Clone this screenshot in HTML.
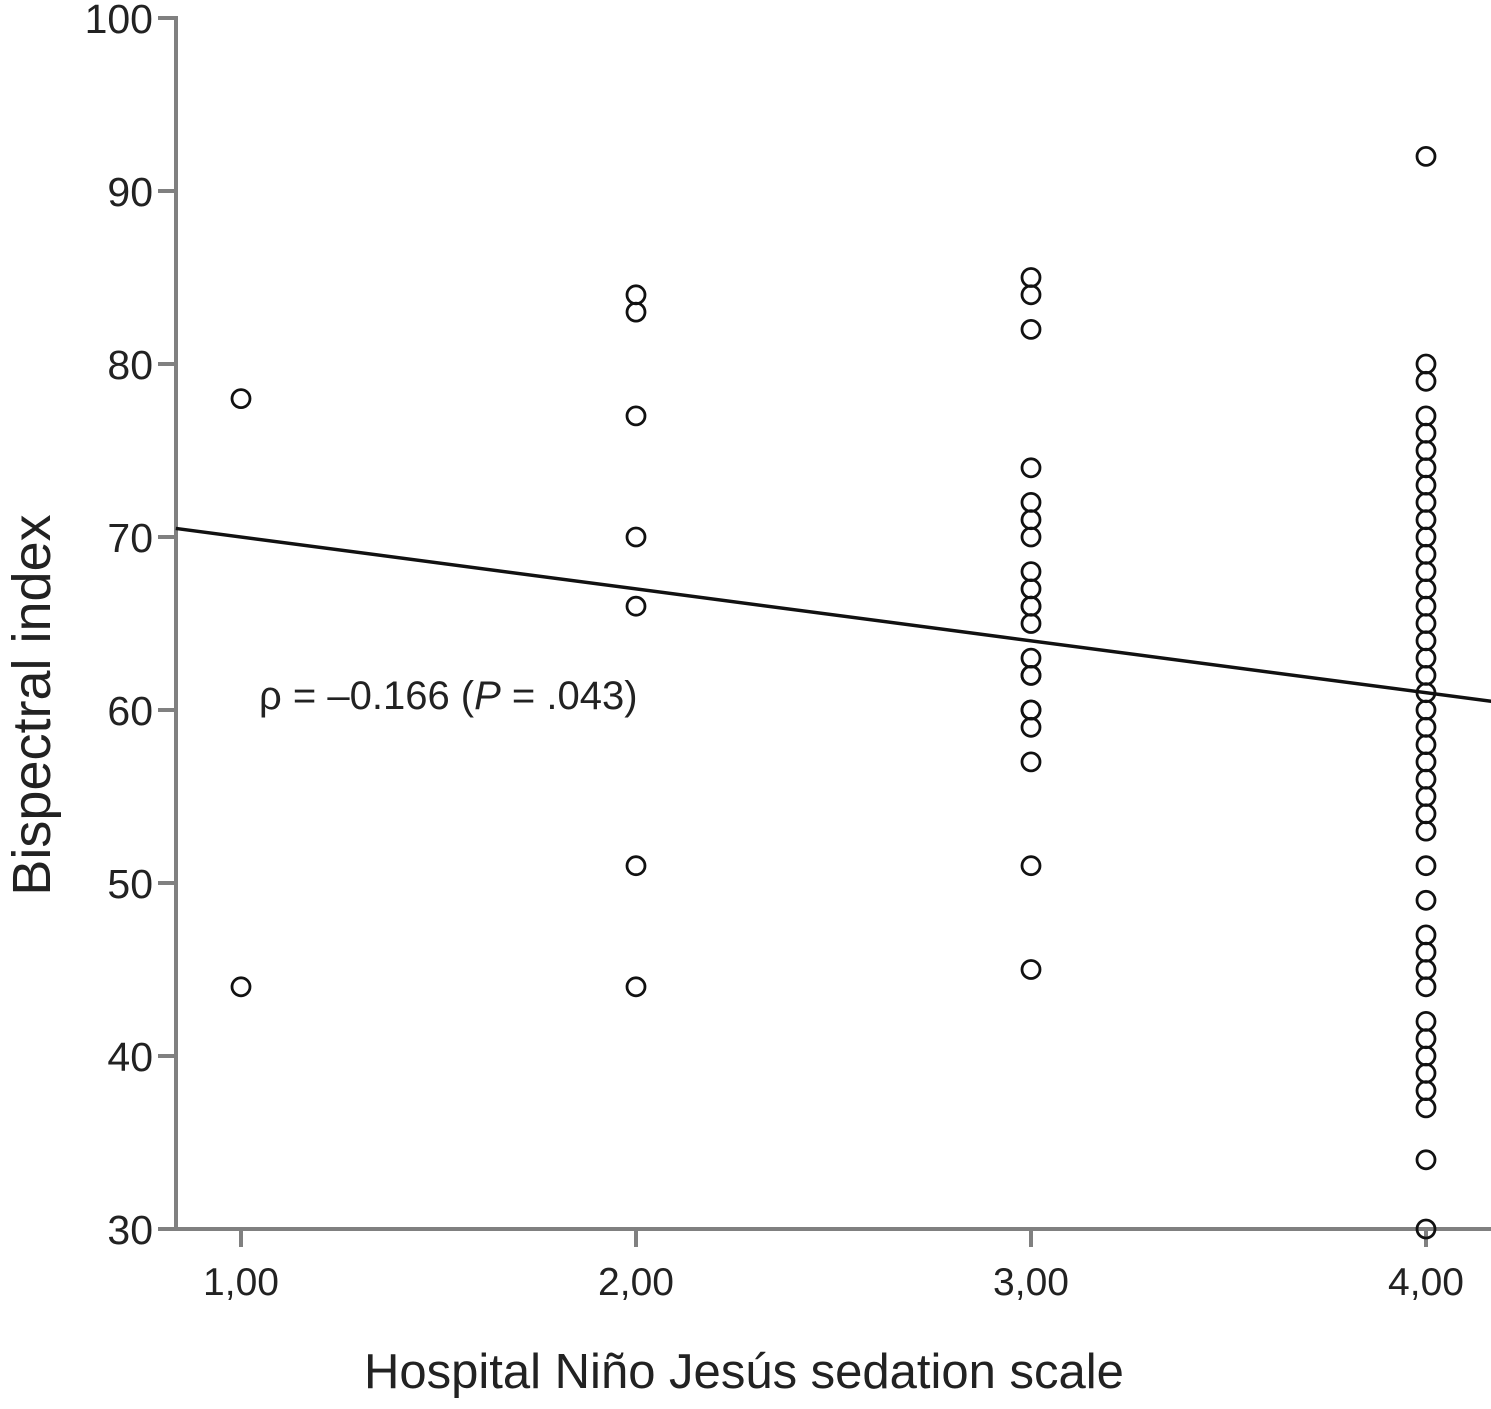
<!DOCTYPE html>
<html><head><meta charset="utf-8"><style>
html,body{margin:0;padding:0;background:#fff;}
svg{display:block;font-family:"Liberation Sans",Arial,sans-serif;}
</style></head><body>
<svg id="chart" width="1491" height="1409" viewBox="0 0 1491 1409" xmlns="http://www.w3.org/2000/svg">
<g id="axes"></g>
<g id="points"></g>
<g id="fit"></g>
<text x="259" y="709" font-size="40" fill="#222">ρ = –0.166 (<tspan font-style="italic">P</tspan> = .043)</text>
<text x="744" y="1388" font-size="49" text-anchor="middle" fill="#222">Hospital Niño Jesús sedation scale</text>
<text transform="translate(50,705) rotate(-90)" font-size="54" text-anchor="middle" fill="#222">Bispectral index</text>
</svg>
<script>
const xTicks=[1,2,3,4];
const xTickLabels=["1,00","2,00","3,00","4,00"];
const yTicks=[30,40,50,60,70,80,90,100];
const g1=[78,44];
const g2=[84,83,77,70,66,51,44];
const g3=[85,84,82,74,72,71,70,68,67,66,66,65,63,62,62,60,60,59,57,51,45];
const g4=[92,80,79,77,76,75,74,73,72,71,70,69,68,67,66,65,64,63,62,61,60,59,58,57,56,55,54,53,51,49,47,46,45,44,42,41,40,39,38,37,34,30];
const groupX=[1,2,3,4];
const fitIntercept=73.0;
const fitSlope=-3.0;
const xMin=0.835,xMax=4.165;

const NS="http://www.w3.org/2000/svg";
function X(v){return 241+(v-1)*395;}
function Y(v){return 1229-(v-30)*(1211/70);}
function mk(tag,attrs,parent){const e=document.createElementNS(NS,tag);for(const k in attrs)e.setAttribute(k,attrs[k]);parent.appendChild(e);return e;}
const axes=document.getElementById('axes');
const axC="#808080";
let e=mk('line',{x1:176,y1:Y(100)-2,x2:176,y2:1231,stroke:axC,'stroke-width':4},axes);


e=mk('line',{x1:174,y1:1229,x2:1491,y2:1229,stroke:axC,'stroke-width':4},axes);


yTicks.forEach(v=>{
  const t=mk('line',{x1:158,y1:Y(v),x2:176,y2:Y(v),stroke:axC,'stroke-width':4},axes);
  
  
  const l=mk('text',{x:153,y:Y(v)+15,'font-size':41,'text-anchor':'end',fill:'#222'},axes);
  l.textContent=v;
  
  
});
xTicks.forEach((v,i)=>{
  const t=mk('line',{x1:X(v),y1:1229,x2:X(v),y2:1247,stroke:axC,'stroke-width':4},axes);
  
  
  const l=mk('text',{x:X(v),y:1295,'font-size':39,'text-anchor':'middle',fill:'#222'},axes);
  l.textContent=xTickLabels[i];
  
  
});
const pts=document.getElementById('points');
[g1,g2,g3,g4].forEach((arr,gi)=>{
  arr.forEach(v=>{
    const c=mk('circle',{cx:X(groupX[gi]),cy:Y(v),r:9,fill:'none',stroke:'#111','stroke-width':2.8},pts);
    
    
  });
});
const fit=document.getElementById('fit');
const fl=mk('line',{x1:X(xMin),y1:Y(fitIntercept+fitSlope*xMin),x2:X(xMax),y2:Y(fitIntercept+fitSlope*xMax),stroke:'#111','stroke-width':3.5},fit);


</script>
</body></html>
